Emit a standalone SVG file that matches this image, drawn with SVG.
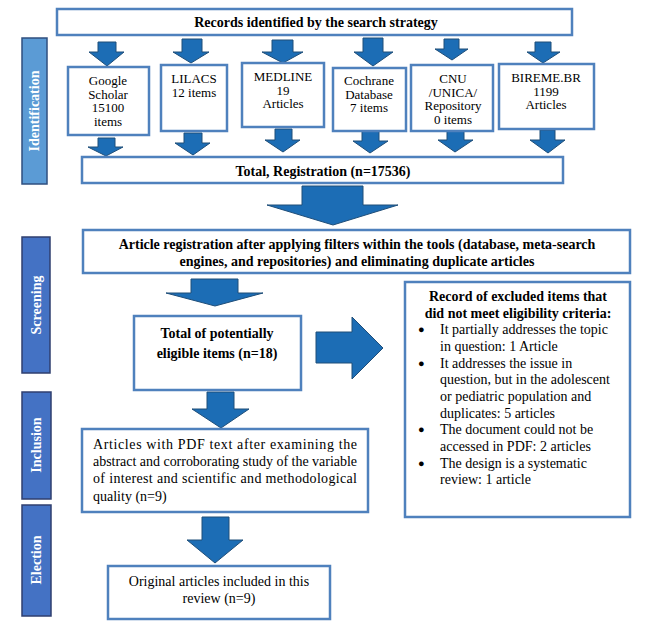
<svg xmlns="http://www.w3.org/2000/svg" width="650" height="621" viewBox="0 0 650 621">
<style>
.box{fill:#fff;stroke:#4F81BD;stroke-width:2.5}
.arr{fill:#1C6DB5;stroke:#1F4E79;stroke-width:1}
.side1{fill:#5B9BD5;stroke:#2F4F7F;stroke-width:1.5}
.side{fill:#4472C4;stroke:#2F3F6F;stroke-width:1.5}
.sl{font-family:"Liberation Serif",serif;font-weight:bold;font-size:14px;fill:#fff;text-anchor:middle}
.hb{font-family:"Liberation Serif",serif;font-weight:bold;font-size:14px;fill:#000;text-anchor:middle}
.t{font-family:"Liberation Serif",serif;font-size:13px;fill:#000;text-anchor:middle}
.p{font-family:"Liberation Serif",serif;font-size:14px;fill:#000}
.b{font-family:"Liberation Serif",serif;font-size:14px;fill:#000}
.dot{font-family:"Liberation Serif",serif;font-size:11px;fill:#000}
</style>
<rect width="650" height="621" fill="#fff"/>
<g id="sidebars">
<g id="side-identification"><rect class="side1" x="22" y="38" width="25" height="146"/><text class="sl" transform="translate(39,111) rotate(-90)">Identification</text></g>
<g id="side-screening"><rect class="side" x="22" y="237" width="28" height="136"/><text class="sl" transform="translate(41,305) rotate(-90)">Screening</text></g>
<g id="side-inclusion"><rect class="side" x="22" y="392" width="29" height="107"/><text class="sl" transform="translate(41,445) rotate(-90)">Inclusion</text></g>
<g id="side-election"><rect class="side" x="22" y="505" width="29" height="111"/><text class="sl" transform="translate(41,560) rotate(-90)">Election</text></g>
</g>
<g id="connectors">
<path class="arr" d="M98,42H116V52H124L107,66L89,52H98Z"/>
<path class="arr" d="M182,39H202V52H209L191,63L173,52H182Z"/>
<path class="arr" d="M272,40H293V52H303L283,63L262,52H272Z"/>
<path class="arr" d="M363,38H383V52H393L373,66L354,52H363Z"/>
<path class="arr" d="M444,39H459V49H468L452,60L435,49H444Z"/>
<path class="arr" d="M535,42H551V52H560L543,63L527,52H535Z"/>
<path class="arr" d="M98,138H115V147H123L106,156L88,147H98Z"/>
<path class="arr" d="M184,133H202V143H210L193,155L175,143H184Z"/>
<path class="arr" d="M275,129H292V140H300L283,152L265,140H275Z"/>
<path class="arr" d="M362,130H379V141H388L370,153L353,141H362Z"/>
<path class="arr" d="M447,129H464V140H473L455,152L438,140H447Z"/>
<path class="arr" d="M540,130H555V140H565L548,153L530,140H540Z"/>
<path class="arr" d="M302,186H363V205H398L333,225L267,205H302Z"/>
<path class="arr" d="M191,279H238V293H263L215,306L166,293H191Z"/>
<path class="arr" d="M316,332H352V317L383,348L352,379V363H316Z"/>
<path class="arr" d="M207,392H234V409H249L221,428L192,409H207Z"/>
<path class="arr" d="M202,517H229V540H243L215,563L187,540H202Z"/>
</g>
<g id="n-records"><rect class="box" x="57" y="9" width="515" height="26"/><text class="hb" x="316" y="27">Records identified by the search strategy</text></g>
<g id="n-google"><rect class="box" x="68" y="67" width="81" height="68"/><text class="t" x="108" y="85">Google</text><text class="t" x="108" y="98.5">Scholar</text><text class="t" x="108" y="112">15100</text><text class="t" x="108" y="125.5">items</text></g>
<g id="n-lilacs"><rect class="box" x="161" y="65" width="66" height="66"/><text class="t" x="194" y="83">LILACS</text><text class="t" x="194" y="96.5">12 items</text></g>
<g id="n-medline"><rect class="box" x="242" y="63" width="82" height="64"/><text class="t" x="283" y="81">MEDLINE</text><text class="t" x="283" y="94.5">19</text><text class="t" x="283" y="108">Articles</text></g>
<g id="n-cochrane"><rect class="box" x="333" y="68" width="73" height="63"/><text class="t" x="369" y="85">Cochrane</text><text class="t" x="369" y="98.5">Database</text><text class="t" x="369" y="112">7 items</text></g>
<g id="n-cnu"><rect class="box" x="411" y="65" width="82" height="66"/><text class="t" x="453" y="83">CNU</text><text class="t" x="453" y="96.5">/UNICA/</text><text class="t" x="453" y="110">Repository</text><text class="t" x="453" y="123.5">0 items</text></g>
<g id="n-bireme"><rect class="box" x="499" y="64" width="95" height="65"/><text class="t" x="546" y="82">BIREME.BR</text><text class="t" x="546" y="95.5">1199</text><text class="t" x="546" y="109">Articles</text></g>
<g id="n-total"><rect class="box" x="82" y="157" width="481" height="26"/><text class="hb" x="323" y="176">Total, Registration (n=17536)</text></g>
<g id="n-article-reg"><rect class="box" x="83" y="230" width="547" height="43"/><text class="hb" x="357" y="249">Article registration after applying filters within the tools (database, meta-search</text><text class="hb" x="357" y="266">engines, and repositories) and eliminating duplicate articles</text></g>
<g id="n-potential"><rect class="box" x="134" y="316" width="167" height="74"/><text class="hb" x="217" y="338">Total of potentially</text><text class="hb" x="217" y="358">eligible items (n=18)</text></g>
<g id="n-excluded"><rect class="box" x="405" y="282" width="225" height="235"/>
<text class="hb" x="518" y="301">Record of excluded items that</text>
<text class="hb" x="518" y="318">did not meet eligibility criteria:</text>
<g class="dot">
<text x="418" y="333">●</text>
<text x="418" y="367">●</text>
<text x="418" y="433">●</text>
<text x="418" y="467">●</text>
</g>
<g class="b">
<text x="440" y="334">It partially addresses the topic</text>
<text x="440" y="351">in question: 1 Article</text>
<text x="440" y="368">It addresses the issue in</text>
<text x="440" y="384">question, but in the adolescent</text>
<text x="440" y="401">or pediatric population and</text>
<text x="440" y="418">duplicates: 5 articles</text>
<text x="440" y="434">The document could not be</text>
<text x="440" y="451">accessed in PDF: 2 articles</text>
<text x="440" y="468">The design is a systematic</text>
<text x="440" y="484">review: 1 article</text>
</g></g>
<g id="n-pdf"><rect class="box" x="82" y="429" width="286" height="83"/>
<text class="p" x="93" y="449" textLength="264" lengthAdjust="spacing">Articles with PDF text after examining the</text>
<text class="p" x="93" y="466" textLength="264" lengthAdjust="spacing">abstract and corroborating study of the variable</text>
<text class="p" x="93" y="483" textLength="264" lengthAdjust="spacing">of interest and scientific and methodological</text>
<text class="p" x="93" y="501">quality (n=9)</text></g>
<g id="n-original"><rect class="box" x="108" y="566" width="222" height="53"/><text class="p" x="219" y="586" text-anchor="middle">Original articles included in this</text><text class="p" x="219" y="603" text-anchor="middle">review (n=9)</text></g>
</svg>
